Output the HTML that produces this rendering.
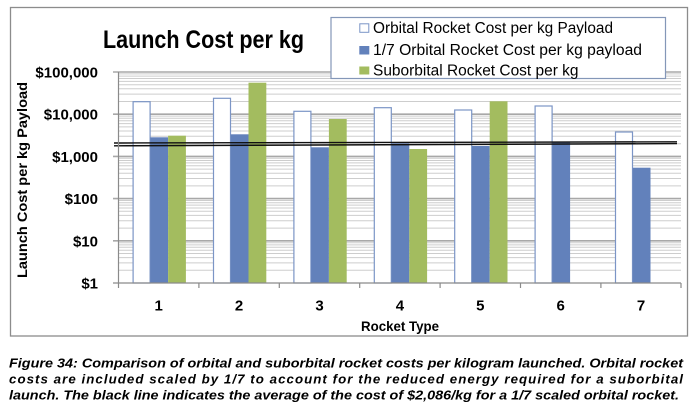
<!DOCTYPE html>
<html><head><meta charset="utf-8"><style>
html,body{margin:0;padding:0;background:#fff;}
svg{display:block;}
text{font-family:"Liberation Sans",Arial,sans-serif;}
</style></head><body>
<svg width="696" height="414" viewBox="0 0 696 414" xmlns="http://www.w3.org/2000/svg">
<rect x="0" y="0" width="696" height="414" fill="#fff"/>
<rect x="10.5" y="7.5" width="677" height="328.5" fill="#fff" stroke="#8c8c8c" stroke-width="1.3"/>
<g stroke="#cdcdcd" stroke-width="1">
<line x1="118" x2="681" y1="270.3" y2="270.3"/><line x1="118" x2="681" y1="262.9" y2="262.9"/><line x1="118" x2="681" y1="257.6" y2="257.6"/><line x1="118" x2="681" y1="253.5" y2="253.5"/><line x1="118" x2="681" y1="250.2" y2="250.2"/><line x1="118" x2="681" y1="247.3" y2="247.3"/><line x1="118" x2="681" y1="244.9" y2="244.9"/><line x1="118" x2="681" y1="242.7" y2="242.7"/>
<line x1="118" x2="681" y1="228.1" y2="228.1"/><line x1="118" x2="681" y1="220.7" y2="220.7"/><line x1="118" x2="681" y1="215.4" y2="215.4"/><line x1="118" x2="681" y1="211.3" y2="211.3"/><line x1="118" x2="681" y1="208.0" y2="208.0"/><line x1="118" x2="681" y1="205.1" y2="205.1"/><line x1="118" x2="681" y1="202.7" y2="202.7"/><line x1="118" x2="681" y1="200.5" y2="200.5"/>
<line x1="118" x2="681" y1="185.9" y2="185.9"/><line x1="118" x2="681" y1="178.5" y2="178.5"/><line x1="118" x2="681" y1="173.2" y2="173.2"/><line x1="118" x2="681" y1="169.1" y2="169.1"/><line x1="118" x2="681" y1="165.8" y2="165.8"/><line x1="118" x2="681" y1="162.9" y2="162.9"/><line x1="118" x2="681" y1="160.5" y2="160.5"/><line x1="118" x2="681" y1="158.3" y2="158.3"/>
<line x1="118" x2="681" y1="143.7" y2="143.7"/><line x1="118" x2="681" y1="136.3" y2="136.3"/><line x1="118" x2="681" y1="131.0" y2="131.0"/><line x1="118" x2="681" y1="126.9" y2="126.9"/><line x1="118" x2="681" y1="123.6" y2="123.6"/><line x1="118" x2="681" y1="120.7" y2="120.7"/><line x1="118" x2="681" y1="118.3" y2="118.3"/><line x1="118" x2="681" y1="116.1" y2="116.1"/>
<line x1="118" x2="681" y1="101.5" y2="101.5"/><line x1="118" x2="681" y1="94.1" y2="94.1"/><line x1="118" x2="681" y1="88.8" y2="88.8"/><line x1="118" x2="681" y1="84.7" y2="84.7"/><line x1="118" x2="681" y1="81.4" y2="81.4"/><line x1="118" x2="681" y1="78.5" y2="78.5"/><line x1="118" x2="681" y1="76.1" y2="76.1"/><line x1="118" x2="681" y1="73.9" y2="73.9"/>
</g>
<g stroke="#a8a8a8" stroke-width="1.6">
<line x1="113" x2="681" y1="72" y2="72"/>
<line x1="113" x2="681" y1="114.2" y2="114.2"/>
<line x1="113" x2="681" y1="156.4" y2="156.4"/>
<line x1="113" x2="681" y1="198.6" y2="198.6"/>
<line x1="113" x2="681" y1="240.8" y2="240.8"/>
</g>
<g>
<rect x="133.1" y="101.7" width="17" height="181.3" fill="#fff" stroke="#7b95c6" stroke-width="1.2"/>
<rect x="150.3" y="137.3" width="17.8" height="145.7" fill="#6281bb"/>
<rect x="168.1" y="135.7" width="17.8" height="147.3" fill="#a3bc5f"/>
<rect x="213.5" y="98.3" width="17" height="184.7" fill="#fff" stroke="#7b95c6" stroke-width="1.2"/>
<rect x="230.7" y="134.3" width="17.8" height="148.7" fill="#6281bb"/>
<rect x="248.5" y="82.7" width="17.8" height="200.3" fill="#a3bc5f"/>
<rect x="293.9" y="111.3" width="17" height="171.7" fill="#fff" stroke="#7b95c6" stroke-width="1.2"/>
<rect x="311.1" y="147.3" width="17.8" height="135.7" fill="#6281bb"/>
<rect x="328.9" y="119" width="17.8" height="164" fill="#a3bc5f"/>
<rect x="374.3" y="107.7" width="17" height="175.3" fill="#fff" stroke="#7b95c6" stroke-width="1.2"/>
<rect x="391.5" y="143.3" width="17.8" height="139.7" fill="#6281bb"/>
<rect x="409.3" y="149" width="17.8" height="134" fill="#a3bc5f"/>
<rect x="454.7" y="110" width="17" height="173" fill="#fff" stroke="#7b95c6" stroke-width="1.2"/>
<rect x="471.9" y="146" width="17.8" height="137" fill="#6281bb"/>
<rect x="489.7" y="101.3" width="17.8" height="181.7" fill="#a3bc5f"/>
<rect x="535.1" y="106" width="17" height="177" fill="#fff" stroke="#7b95c6" stroke-width="1.2"/>
<rect x="552.3" y="141.7" width="17.8" height="141.3" fill="#6281bb"/>
<rect x="615.5" y="132" width="17" height="151" fill="#fff" stroke="#7b95c6" stroke-width="1.2"/>
<rect x="632.7" y="167.7" width="17.8" height="115.3" fill="#6281bb"/>
</g>
<line x1="114" y1="143" x2="677" y2="141.8" stroke="#111" stroke-width="1.4"/>
<line x1="114" y1="145.8" x2="677" y2="143.6" stroke="#111" stroke-width="1.4"/>
<g stroke="#8a8a8a" stroke-width="1.2">
<line x1="118.5" y1="72" x2="118.5" y2="283"/>
<line x1="113" y1="283" x2="681" y2="283"/>
<line x1="118.5" y1="283" x2="118.5" y2="288"/>
<line x1="198.9" y1="283" x2="198.9" y2="288"/>
<line x1="279.3" y1="283" x2="279.3" y2="288"/>
<line x1="359.7" y1="283" x2="359.7" y2="288"/>
<line x1="440.1" y1="283" x2="440.1" y2="288"/>
<line x1="520.5" y1="283" x2="520.5" y2="288"/>
<line x1="600.9" y1="283" x2="600.9" y2="288"/>
<line x1="681" y1="283" x2="681" y2="288"/>
</g>
<g font-weight="bold" font-size="15" text-anchor="end" fill="#000">
<text x="98" y="77.5">$100,000</text>
<text x="98" y="119.7">$10,000</text>
<text x="98" y="161.9">$1,000</text>
<text x="98" y="204.1">$100</text>
<text x="98" y="246.3">$10</text>
<text x="98" y="288.5">$1</text>
</g>
<g font-weight="bold" font-size="15" text-anchor="middle" fill="#000">
<text x="158.7" y="310.5">1</text>
<text x="239.1" y="310.5">2</text>
<text x="319.5" y="310.5">3</text>
<text x="399.9" y="310.5">4</text>
<text x="480.3" y="310.5">5</text>
<text x="560.7" y="310.5">6</text>
<text x="641.1" y="310.5">7</text>
</g>
<text x="361" y="331" font-weight="bold" font-size="14" textLength="78" lengthAdjust="spacingAndGlyphs">Rocket Type</text>
<text transform="translate(27,278) rotate(-90)" x="0" y="0" font-weight="bold" font-size="14" textLength="196" lengthAdjust="spacingAndGlyphs">Launch Cost per kg Payload</text>
<text x="103" y="48" font-weight="bold" font-size="25" textLength="201" lengthAdjust="spacingAndGlyphs">Launch Cost per kg</text>
<rect x="331" y="17.5" width="334.5" height="61" fill="#fff" stroke="#8497b8" stroke-width="1.2"/>
<rect x="359.8" y="23.8" width="9" height="8.5" fill="#fff" stroke="#7b95c6" stroke-width="1"/>
<rect x="359.3" y="46" width="10" height="8.5" fill="#6281bb"/>
<rect x="359.3" y="66.5" width="10" height="8" fill="#a3bc5f"/>
<g font-size="15.5" fill="#000">
<text x="373" y="33" textLength="240" lengthAdjust="spacingAndGlyphs">Orbital Rocket Cost per kg Payload</text>
<text x="373" y="55" textLength="269" lengthAdjust="spacingAndGlyphs">1/7 Orbital Rocket Cost per kg payload</text>
<text x="373" y="75.3" textLength="205.5" lengthAdjust="spacingAndGlyphs">Suborbital Rocket Cost per kg</text>
</g>
<g font-weight="bold" font-style="italic" font-size="13.3" fill="#000">
<text x="9" y="367.5" textLength="674" lengthAdjust="spacingAndGlyphs">Figure 34: Comparison of orbital and suborbital rocket costs per kilogram launched. Orbital rocket</text>
<text x="9" y="383.5" textLength="674" lengthAdjust="spacing">costs are included scaled by 1/7 to account for the reduced energy required for a suborbital</text>
<text x="9" y="399.5" textLength="670" lengthAdjust="spacingAndGlyphs">launch. The black line indicates the average of the cost of $2,086/kg for a 1/7 scaled orbital rocket.</text>
</g>
</svg>
</body></html>
